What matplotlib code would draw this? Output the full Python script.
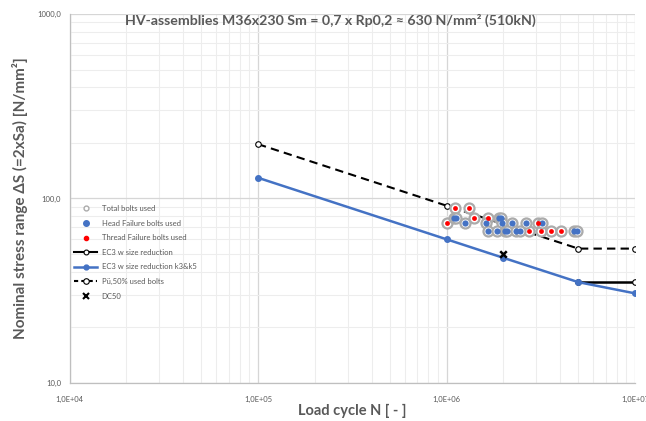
import matplotlib
matplotlib.use("Agg")
import matplotlib.pyplot as plt
from matplotlib.lines import Line2D
from matplotlib.ticker import FixedLocator, LogLocator, NullFormatter, FuncFormatter
import numpy as np

plt.rcParams['font.family'] = ['Lato', 'DejaVu Sans']

# ---------------- data ----------------
title_text = "HV-assemblies M36x230 Sm = 0,7 x Rp0,2 \u2248 630 N/mm\u00b2 (510kN)"
xlabel_text = "Load cycle N [ - ]"
ylabel_text = "Nominal stress range \u0394S (=2xSa) [N/mm\u00b2]"

thread_N = [1.11e6, 1.32e6, 1.40e6, 1.67e6, 1.01e6, 3.05e6, 2.74e6, 3.16e6, 3.58e6, 4.03e6]
thread_S = [89.0, 89.0, 78.5, 78.5, 74.0, 74.0, 66.5, 66.5, 66.5, 66.5]

head_N = [1.09e6, 1.12e6, 1.89e6, 1.95e6,
          1.26e6, 1.61e6, 1.96e6, 2.22e6, 2.64e6, 3.20e6,
          1.65e6, 1.85e6, 2.05e6, 2.10e6, 2.34e6, 2.45e6, 4.76e6, 4.92e6]
head_S = [78.5, 78.5, 78.5, 78.5,
          74.0, 74.0, 74.0, 74.0, 74.0, 74.0,
          66.5, 66.5, 66.5, 66.5, 66.5, 66.5, 66.5, 66.5]

total_N = thread_N + head_N
total_S = thread_S + head_S

ec3_N = [5e6, 1e7]
ec3_S = [35.2, 35.2]

ec3k_N = [1e5, 1e6, 2e6, 5e6, 1e7]
ec3k_S = [129.5, 60.1, 47.7, 35.2, 30.6]

pu50_N = [1e5, 1e6, 5e6, 1e7]
pu50_S = [197.0, 91.4, 53.5, 53.5]

dc50_N = [2e6]
dc50_S = [50.0]

legend_labels = ["Total bolts used", "Head Failure bolts used", "Thread Failure bolts used",
                 "EC3 w size reduction", "EC3 w size reduction k3&k5",
                 "P\u00fc,50% used bolts", "DC50"]

x_ticks = [1e4, 1e5, 1e6, 1e7]
y_ticks = [10, 100, 1000]

# ---------------- style ----------------
grey_txt = '#595959'
blue = '#4472C4'
red = '#FF0000'
ring = '#ABABAB'

fig = plt.figure(figsize=(6.46, 4.21), dpi=100)
ax = fig.add_axes([0.1076, 0.0903, 0.8754, 0.8765])
ax.set_xscale('log')
ax.set_yscale('log')
ax.set_xlim(1e4, 1e7)
ax.set_ylim(10, 1000)

ax.xaxis.set_major_locator(FixedLocator(x_ticks))
ax.yaxis.set_major_locator(FixedLocator(y_ticks))
ax.xaxis.set_minor_locator(LogLocator(base=10, subs=np.arange(2, 10)))
ax.yaxis.set_minor_locator(LogLocator(base=10, subs=np.arange(2, 10)))
ax.xaxis.set_minor_formatter(NullFormatter())
ax.yaxis.set_minor_formatter(NullFormatter())

def xfmt(v, pos):
    e = int(round(np.log10(v)))
    return "1,0E+%02d" % e

def yfmt(v, pos):
    return ("%.1f" % v).replace('.', ',')

ax.xaxis.set_major_formatter(FuncFormatter(xfmt))
ax.yaxis.set_major_formatter(FuncFormatter(yfmt))
ax.tick_params(which='both', length=0, labelsize=5.5, labelcolor=grey_txt)
ax.tick_params(axis='x', pad=9)
ax.tick_params(axis='y', pad=6)

ax.grid(which='major', color='#D6D6D6', linewidth=0.9)
ax.grid(which='minor', color='#EDEDED', linewidth=0.8)
ax.set_axisbelow(True)
for s in ['top', 'right']:
    ax.spines[s].set_visible(False)
for s in ['left', 'bottom']:
    ax.spines[s].set_color('#BFBFBF')
    ax.spines[s].set_linewidth(0.9)

# ---------------- series ----------------
ax.plot(pu50_N, pu50_S, color='black', linestyle=(0, (4, 2.5)), linewidth=1.5,
        marker='o', markersize=4, markerfacecolor='white', markeredgecolor='black',
        markeredgewidth=0.8, zorder=3)
ax.plot(ec3_N, ec3_S, color='black', linewidth=1.8, marker='o', markersize=4,
        markerfacecolor='white', markeredgecolor='black', markeredgewidth=0.8, zorder=3)
ax.plot(ec3k_N, ec3k_S, color=blue, linewidth=1.8, marker='o', markersize=4,
        markerfacecolor=blue, markeredgecolor=blue, zorder=4)
ax.scatter(total_N, total_S, s=52, facecolor='white', edgecolor=ring, linewidth=1.6, zorder=5)
ax.scatter(head_N, head_S, s=20, color=blue, linewidth=0, zorder=6)
ax.scatter(thread_N, thread_S, s=12, color=red, linewidth=0, zorder=7)
ax.scatter(dc50_N, dc50_S, marker='x', s=22, color='black', linewidth=1.8, zorder=8)

# ---------------- legend ----------------
handles = [
    Line2D([], [], linestyle='none', marker='o', markersize=3.5, markerfacecolor='white',
           markeredgecolor=ring, markeredgewidth=1.0),
    Line2D([], [], linestyle='none', marker='o', markersize=4, markerfacecolor=blue,
           markeredgecolor=blue),
    Line2D([], [], linestyle='none', marker='o', markersize=3, markerfacecolor=red,
           markeredgecolor=red),
    Line2D([], [], color='black', linewidth=1.5, marker='o', markersize=3.5,
           markerfacecolor='white', markeredgecolor='black', markeredgewidth=0.8),
    Line2D([], [], color=blue, linewidth=1.8, marker='o', markersize=3.5,
           markerfacecolor=blue, markeredgecolor=blue),
    Line2D([], [], color='black', linestyle=(0, (2, 1.5)), linewidth=1.5, marker='o',
           markersize=4, markerfacecolor='white', markeredgecolor='black', markeredgewidth=0.8),
    Line2D([], [], linestyle='none', marker='x', markersize=4, color='black',
           markeredgewidth=1.5),
]
leg = ax.legend(handles, legend_labels, loc='upper left', bbox_to_anchor=(0.0, 0.495),
                frameon=False, fontsize=5.5, labelcolor=grey_txt, handlelength=3.0,
                handletextpad=0.6, labelspacing=1.0, borderaxespad=0.3, borderpad=0.3)

# ---------------- texts ----------------
fig.text(0.193, 0.952, title_text, fontsize=10.2, fontweight='bold', color=grey_txt,
         ha='left', va='center')
ax.set_xlabel(xlabel_text, fontsize=10.5, fontweight='bold', color=grey_txt)
ax.set_ylabel(ylabel_text, fontsize=11, fontweight='bold', color=grey_txt)
ax.xaxis.set_label_coords(0.5, -0.057)
ax.yaxis.set_label_coords(-0.074, 0.5)

fig.savefig('out.png', dpi=100)
